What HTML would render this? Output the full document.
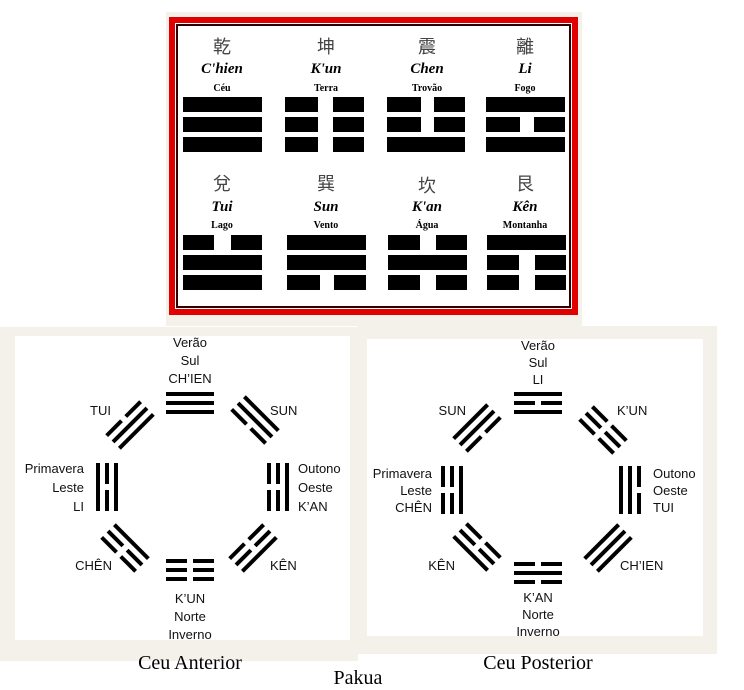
<!DOCTYPE html>
<html><head><meta charset="utf-8"><style>
html,body{margin:0;padding:0;background:#fff;width:744px;height:690px;overflow:hidden}
svg{display:block}
.lab{font-family:"Liberation Sans","DejaVu Sans",sans-serif;font-size:13px;fill:#111}
.cap{font-family:"Liberation Serif",serif;font-size:20px;fill:#000}
.cj{font-family:"Liberation Sans","Noto Sans CJK TC",sans-serif;font-size:18px;fill:#444}
.nm{font-family:"Liberation Serif",serif;font-size:15px;font-weight:bold;font-style:italic;fill:#000}
.sb{font-family:"Liberation Serif",serif;font-size:10px;font-weight:bold;fill:#000}
</style></head><body>
<svg width="744" height="690" viewBox="0 0 744 690" xmlns="http://www.w3.org/2000/svg">
<defs>
<g id="S"><rect x="-24" y="-2" width="48" height="4"/></g>
<g id="B"><rect x="-24" y="-2" width="21" height="4"/><rect x="3" y="-2" width="21" height="4"/></g>
</defs>
<rect x="166" y="12" width="416" height="314" fill="#f4f1ea"/>
<rect x="0" y="327" width="358" height="334" fill="#f4f1ea"/>
<rect x="357" y="326" width="360" height="328" fill="#f4f1ea"/>
<rect x="15" y="336" width="335" height="304" fill="#fff"/>
<rect x="367" y="339" width="336" height="297" fill="#fff"/>
<rect x="172" y="20" width="403" height="292" fill="#fff" stroke="#e00000" stroke-width="6"/>
<rect x="177" y="25" width="393" height="282" fill="#fff" stroke="#300" stroke-width="2"/>
<g>
<text class="cj" x="222" y="53" text-anchor="middle">乾</text>
<text class="cj" x="326" y="53" text-anchor="middle">坤</text>
<text class="cj" x="427" y="53" text-anchor="middle">震</text>
<text class="cj" x="525" y="53" text-anchor="middle">離</text>
<text class="nm" x="222" y="73" text-anchor="middle">C'hien</text>
<text class="nm" x="326" y="73" text-anchor="middle">K'un</text>
<text class="nm" x="427" y="73" text-anchor="middle">Chen</text>
<text class="nm" x="525" y="73" text-anchor="middle">Li</text>
<text class="sb" x="222" y="91" text-anchor="middle">Céu</text>
<text class="sb" x="326" y="91" text-anchor="middle">Terra</text>
<text class="sb" x="427" y="91" text-anchor="middle">Trovão</text>
<text class="sb" x="525" y="91" text-anchor="middle">Fogo</text>
<text class="cj" x="222" y="190" text-anchor="middle">兌</text>
<text class="cj" x="326" y="190" text-anchor="middle">巽</text>
<text class="cj" x="427" y="192" text-anchor="middle">坎</text>
<text class="cj" x="525" y="190" text-anchor="middle">艮</text>
<text class="nm" x="222" y="211" text-anchor="middle">Tui</text>
<text class="nm" x="326" y="211" text-anchor="middle">Sun</text>
<text class="nm" x="427" y="211" text-anchor="middle">K'an</text>
<text class="nm" x="525" y="211" text-anchor="middle">Kên</text>
<text class="sb" x="222" y="228" text-anchor="middle">Lago</text>
<text class="sb" x="326" y="228" text-anchor="middle">Vento</text>
<text class="sb" x="427" y="228" text-anchor="middle">Água</text>
<text class="sb" x="525" y="228" text-anchor="middle">Montanha</text>
</g>
<g fill="#000">
<rect x="183" y="97" width="79" height="15"/><rect x="183" y="117" width="79" height="15"/><rect x="183" y="137" width="79" height="15"/>
<rect x="285" y="97" width="33" height="15"/><rect x="333" y="97" width="31" height="15"/>
<rect x="285" y="117" width="33" height="15"/><rect x="333" y="117" width="31" height="15"/>
<rect x="285" y="137" width="33" height="15"/><rect x="333" y="137" width="31" height="15"/>
<rect x="387" y="97" width="34" height="15"/><rect x="434" y="97" width="31" height="15"/>
<rect x="387" y="117" width="34" height="15"/><rect x="434" y="117" width="31" height="15"/>
<rect x="387" y="137" width="78" height="15"/>
<rect x="486" y="97" width="79" height="15"/>
<rect x="486" y="117" width="34" height="15"/><rect x="534" y="117" width="31" height="15"/>
<rect x="486" y="137" width="79" height="15"/>
<rect x="183" y="235" width="31" height="15"/><rect x="231" y="235" width="31" height="15"/>
<rect x="183" y="255" width="79" height="15"/><rect x="183" y="275" width="79" height="15"/>
<rect x="287" y="235" width="79" height="15"/><rect x="287" y="255" width="79" height="15"/>
<rect x="287" y="275" width="33" height="15"/><rect x="334" y="275" width="32" height="15"/>
<rect x="388" y="235" width="32" height="15"/><rect x="436" y="235" width="31" height="15"/>
<rect x="388" y="255" width="79" height="15"/>
<rect x="388" y="275" width="32" height="15"/><rect x="436" y="275" width="31" height="15"/>
<rect x="487" y="235" width="79" height="15"/>
<rect x="487" y="255" width="32" height="15"/><rect x="535" y="255" width="31" height="15"/>
<rect x="487" y="275" width="32" height="15"/><rect x="535" y="275" width="31" height="15"/>
</g>
<g fill="#000">
<g transform="translate(190,403) rotate(0)"><use href="#S" y="-9"/><use href="#S"/><use href="#S" y="9"/></g>
<g transform="translate(255,420) rotate(45)"><use href="#S" y="-9"/><use href="#S"/><use href="#B" y="9"/></g>
<g transform="translate(278,487) rotate(90)"><use href="#S" y="-9"/><use href="#B"/><use href="#B" y="9"/></g>
<g transform="translate(253,548) rotate(135)"><use href="#S" y="-9"/><use href="#B"/><use href="#B" y="9"/></g>
<g transform="translate(190,570) rotate(180)"><use href="#B" y="-9"/><use href="#B"/><use href="#B" y="9"/></g>
<g transform="translate(125,548) rotate(225)"><use href="#B" y="-9"/><use href="#B"/><use href="#S" y="9"/></g>
<g transform="translate(107,487) rotate(270)"><use href="#S" y="-9"/><use href="#B"/><use href="#S" y="9"/></g>
<g transform="translate(130,425) rotate(315)"><use href="#B" y="-9"/><use href="#S"/><use href="#S" y="9"/></g>
<g transform="translate(538,403) rotate(0)"><use href="#S" y="-9"/><use href="#B"/><use href="#S" y="9"/></g>
<g transform="translate(603,430) rotate(45)"><use href="#B" y="-9"/><use href="#B"/><use href="#B" y="9"/></g>
<g transform="translate(630,490) rotate(90)"><use href="#B" y="-9"/><use href="#S"/><use href="#S" y="9"/></g>
<g transform="translate(608,548) rotate(135)"><use href="#S" y="-9"/><use href="#S"/><use href="#S" y="9"/></g>
<g transform="translate(538,573) rotate(180)"><use href="#B" y="-9"/><use href="#S"/><use href="#B" y="9"/></g>
<g transform="translate(477,547) rotate(225)"><use href="#S" y="-9"/><use href="#B"/><use href="#B" y="9"/></g>
<g transform="translate(452,490) rotate(270)"><use href="#B" y="-9"/><use href="#B"/><use href="#S" y="9"/></g>
<g transform="translate(477,428) rotate(315)"><use href="#S" y="-9"/><use href="#S"/><use href="#B" y="9"/></g>
</g>
<g class="lab">
<text x="190" y="347" text-anchor="middle">Verão</text>
<text x="190" y="365" text-anchor="middle">Sul</text>
<text x="190" y="383" text-anchor="middle">CH’IEN</text>
<text x="111" y="415" text-anchor="end">TUI</text>
<text x="270" y="415">SUN</text>
<text x="84" y="473" text-anchor="end">Primavera</text>
<text x="84" y="492" text-anchor="end">Leste</text>
<text x="84" y="511" text-anchor="end">LI</text>
<text x="298" y="473">Outono</text>
<text x="298" y="492">Oeste</text>
<text x="298" y="511">K’AN</text>
<text x="112" y="570" text-anchor="end">CHÊN</text>
<text x="270" y="570">KÊN</text>
<text x="190" y="603" text-anchor="middle">K’UN</text>
<text x="190" y="621" text-anchor="middle">Norte</text>
<text x="190" y="639" text-anchor="middle">Inverno</text>
<text x="538" y="350" text-anchor="middle">Verão</text>
<text x="538" y="367" text-anchor="middle">Sul</text>
<text x="538" y="384" text-anchor="middle">LI</text>
<text x="466" y="415" text-anchor="end">SUN</text>
<text x="617" y="415">K’UN</text>
<text x="432" y="478" text-anchor="end">Primavera</text>
<text x="432" y="495" text-anchor="end">Leste</text>
<text x="432" y="512" text-anchor="end">CHÊN</text>
<text x="653" y="478">Outono</text>
<text x="653" y="495">Oeste</text>
<text x="653" y="512">TUI</text>
<text x="455" y="570" text-anchor="end">KÊN</text>
<text x="620" y="570">CH’IEN</text>
<text x="538" y="602" text-anchor="middle">K’AN</text>
<text x="538" y="619" text-anchor="middle">Norte</text>
<text x="538" y="636" text-anchor="middle">Inverno</text>
</g>
<text class="cap" x="190" y="669" text-anchor="middle">Ceu Anterior</text>
<text class="cap" x="538" y="669" text-anchor="middle">Ceu Posterior</text>
<text class="cap" x="358" y="684" text-anchor="middle">Pakua</text>
</svg>
</body></html>
